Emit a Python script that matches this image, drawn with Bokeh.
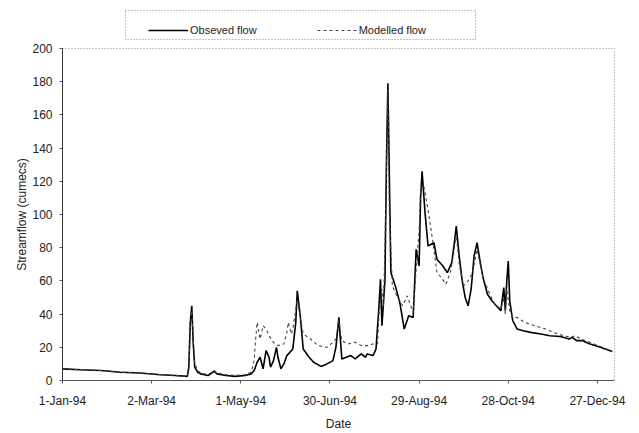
from bokeh.plotting import figure
from bokeh.models import Range1d, FixedTicker, Legend, LegendItem
from bokeh.layouts import column
from bokeh.embed import file_html
from bokeh.resources import INLINE

# day index from 1-Jan-94
obs_day = [0, 12, 26, 39, 52, 66, 76, 84, 85, 86, 87, 88, 89, 91, 93, 98, 102, 104, 110, 116,
           123, 127, 129, 131, 133, 135, 137, 139, 140, 142, 144, 145, 147, 149, 151, 155, 157,
           158, 160, 162, 166, 169, 174, 178, 182, 184, 186, 187, 188, 191, 194, 197, 201, 204,
           205, 209, 211, 213, 214, 215, 217, 218, 219, 221, 224, 227, 230, 233, 236, 238, 240,
           241, 242, 244, 246, 250, 252, 256, 259, 262, 264, 265, 267, 269, 271, 273, 275, 277,
           279, 281, 283, 286, 289, 293, 295, 297, 298, 299, 300, 301, 303, 306, 310, 315, 322,
           328, 335, 341, 343, 346, 350, 355, 362, 370]
obs_flow = [7, 6.5, 6, 5, 4.5, 3.5, 3, 2.5, 8, 35, 45, 22, 8, 5, 4, 3, 5.5, 4, 3, 2.5,
            3, 4, 6, 11, 14, 7, 18, 14, 8, 12, 20, 14, 7, 10, 15, 19, 35,
            54, 39, 19, 14, 11, 8.5, 10, 12, 20, 38, 25, 13, 14, 15, 13, 16, 14,
            16, 15, 19, 45, 61, 33, 60, 130, 179, 65, 57, 47, 31, 39, 38, 79, 69,
            110, 126, 101, 81, 83, 73, 69, 65, 71, 85, 93, 75, 60, 50, 45, 55, 75,
            83, 72, 62, 52, 48, 44, 42, 56, 42, 60, 72, 48, 36, 31, 30, 29, 28,
            27, 26.5, 25, 26, 24, 24, 22, 20, 17.4]

mod_day = [0, 12, 26, 39, 52, 66, 76, 84, 85, 86, 87, 88, 89, 91, 93, 98, 102, 104, 110, 116,
           123, 127, 129, 130, 131, 133, 135, 137, 139, 142, 145, 149, 151, 152, 154, 155, 158,
           160, 162, 167, 172, 178, 182, 184, 186, 188, 192, 197, 201, 205, 209, 212, 213, 215,
           216, 217, 219, 220, 222, 225, 229, 232, 236, 238, 240, 241, 243, 246, 249, 252, 255,
           258, 261, 263, 265, 267, 270, 273, 276, 279, 283, 288, 291, 295, 297, 298, 299, 301,
           303, 306, 311, 318, 325, 332, 337, 342, 345, 349, 355, 362, 370]
mod_flow = [7, 6.5, 6, 5, 4.5, 3.5, 3, 2.4, 7, 30, 42, 25, 10, 6, 4.5, 3.5, 6, 4.5, 3.5, 3,
            3.5, 5, 12, 25, 35, 25, 33, 31, 27, 23, 21, 22, 29, 35, 28, 31, 49,
            38, 28, 25, 21, 20, 23, 25, 36, 24, 22, 23, 21, 21, 22, 22, 40, 55,
            45, 80, 175, 100, 57, 51, 45, 51, 41, 67, 90, 115, 118, 103, 85, 65, 62,
            58, 65, 75, 88, 70, 57, 60, 65, 79, 62, 51, 46, 43, 50, 40, 55, 42,
            38, 38, 35, 33, 31, 28.5, 27, 26, 27, 25, 23, 20.5, 17.5]

series_names = ["Obseved flow", "Modelled flow"]
tick_days = [0, 60, 120, 180, 240, 300, 360]
tick_labels = ["1-Jan-94", "2-Mar-94", "1-May-94", "30-Jun-94", "29-Aug-94", "28-Oct-94", "27-Dec-94"]
y_ticks = [0, 20, 40, 60, 80, 100, 120, 140, 160, 180, 200]

FONT = "Liberation Sans"
W = 639
OBS_STYLE = dict(line_color="black", line_width=1.6)
MOD_STYLE = dict(line_color="#444444", line_width=1.1, line_dash="3 3")

# ---- legend box on top (its frame outline is the legend border);
#      the column aligns its frame borders with the main chart (62 left, 25 right) ----
lg = figure(width=437, height=30, output_backend="svg", toolbar_location=None,
            x_range=Range1d(0, 1), y_range=Range1d(0, 1),
            min_border=0, min_border_left=0, min_border_right=0,
            min_border_top=0, min_border_bottom=0, margin=(10, 0, 0, 63))
lg.axis.visible = False
lg.grid.visible = False
lg.outline_line_color = "#888888"
lg.outline_line_dash = "1 2"
lg.border_fill_color = "white"
nan = float("nan")
l_obs = lg.line([0, 1], [nan, nan], **OBS_STYLE)
l_mod = lg.line([0, 1], [nan, nan], **MOD_STYLE)
legend = Legend(items=[LegendItem(label=series_names[0], renderers=[l_obs]),
                       LegendItem(label=series_names[1], renderers=[l_mod])],
                location=(23, 4), orientation="horizontal")
legend.label_text_font = FONT
legend.label_text_font_size = "11px"
legend.label_text_color = "#222222"
legend.glyph_width = 40
legend.glyph_height = 12
legend.label_standoff = 2
legend.spacing = 60
legend.padding = 4
legend.margin = 0
legend.border_line_color = None
legend.background_fill_alpha = 0
lg.add_layout(legend)

# ---- main chart ----
p = figure(width=W, height=393, output_backend="svg", toolbar_location=None,
           x_range=Range1d(0, 371.5), y_range=Range1d(0, 200),
           min_border_left=62, min_border_right=25, min_border_top=8, min_border_bottom=50)
p.background_fill_color = "white"
p.border_fill_color = "white"
p.outline_line_color = "#888888"
p.outline_line_dash = "1 2"
p.xgrid.visible = False
p.ygrid.visible = False

p.line(obs_day, obs_flow, **OBS_STYLE)
p.line(mod_day, mod_flow, **MOD_STYLE)

p.xaxis.ticker = FixedTicker(ticks=tick_days)
p.xaxis.major_label_overrides = {d: l for d, l in zip(tick_days, tick_labels)}
p.yaxis.ticker = FixedTicker(ticks=y_ticks)

for ax in (p.xaxis[0], p.yaxis[0]):
    ax.major_label_text_font = FONT
    ax.major_label_text_font_size = "12px"
    ax.major_label_text_color = "#222222"
    ax.axis_label_text_font = FONT
    ax.axis_label_text_font_size = "12px"
    ax.axis_label_text_font_style = "normal"
    ax.axis_label_text_color = "#222222"
    ax.minor_tick_line_color = None
    ax.major_tick_in = 0
    ax.major_tick_out = 3
    ax.major_tick_line_color = "#555555"

p.xaxis.axis_label = "Date"
p.xaxis.axis_line_color = "#555555"
p.xaxis.major_label_standoff = 10
p.xaxis.axis_label_standoff = 6
p.yaxis.axis_label = "Streamflow (cumecs)"
p.yaxis.axis_line_color = "#333333"
p.yaxis.major_label_standoff = 7
p.yaxis.axis_label_standoff = 0

layout = column(lg, p, spacing=0)
open("out.html", "w").write(file_html(layout, INLINE))
